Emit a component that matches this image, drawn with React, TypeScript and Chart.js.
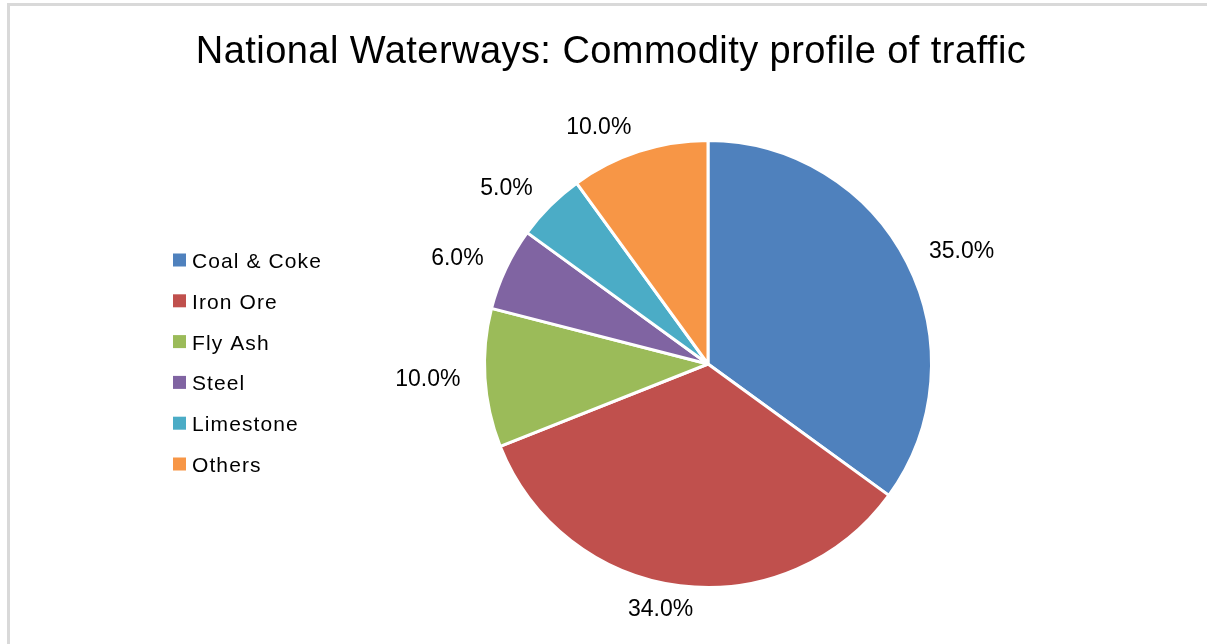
import React, { useEffect, useRef } from "react";
import { Chart, registerables } from "chart.js";

Chart.register(...registerables);

const chartTitle = "National Waterways: Commodity profile of traffic";
const categories = ["Coal & Coke", "Iron Ore", "Fly Ash", "Steel", "Limestone", "Others"];
const shares = [35, 34, 10, 6, 5, 10];
const sliceColors = ["#4F81BD", "#C0504D", "#9BBB59", "#8064A2", "#4BACC6", "#F79646"];

const FONT = "'Liberation Sans', Arial, sans-serif";

const decorPlugin = {
  id: "decor",
  afterDraw(chart: any) {
    const ctx = chart.ctx as CanvasRenderingContext2D;
    const meta = chart.getDatasetMeta(0);
    ctx.save();
    // title
    ctx.fillStyle = "#000";
    ctx.font = `38px ${FONT}`;
    (ctx as any).letterSpacing = "0.45px";
    ctx.textAlign = "center";
    ctx.textBaseline = "alphabetic";
    ctx.fillText(chartTitle, 611, 63);

    // data labels (outside end)
    ctx.font = `23px ${FONT}`;
    (ctx as any).letterSpacing = "0px";
    ctx.textBaseline = "middle";
    meta.data.forEach((arc: any, i: number) => {
      const { x, y, startAngle, endAngle, outerRadius } = arc.getProps(
        ["x", "y", "startAngle", "endAngle", "outerRadius"],
        true
      );
      const mid = (startAngle + endAngle) / 2;
      const dx = Math.cos(mid);
      const dy = Math.sin(mid);
      const d = outerRadius + 24.5;
      const txt = shares[i].toFixed(1) + "%";
      const w = ctx.measureText(txt).width;
      const shift = Math.sign(dx) * Math.min(1, Math.abs(dx) / 0.25) * (w / 2);
      ctx.fillText(txt, x + dx * d + shift, y + dy * d);
    });

    // legend
    ctx.font = `21px ${FONT}`;
    (ctx as any).letterSpacing = "1.1px";
    ctx.textAlign = "left";
    ctx.textBaseline = "alphabetic";
    categories.forEach((c, i) => {
      const cy = 260 + i * 40.8;
      ctx.fillStyle = sliceColors[i];
      ctx.fillRect(173, cy - 6.5, 13, 13);
      ctx.fillStyle = "#000";
      ctx.fillText(c, 192, cy + 8);
    });
    ctx.restore();
  },
};

export default function App() {
  const ref = useRef<HTMLCanvasElement>(null);
  useEffect(() => {
    if (!ref.current) return;
    const chart = new Chart(ref.current, {
      type: "pie",
      data: {
        labels: categories,
        datasets: [
          {
            data: shares,
            backgroundColor: sliceColors,
            borderColor: "#ffffff",
            borderWidth: 3,
          },
        ],
      },
      options: {
        animation: false,
        responsive: false,
        radius: 223.5,
        layout: { padding: { top: 140, bottom: 56, left: 484, right: 275 } },
        plugins: {
          legend: { display: false },
          title: { display: false },
          tooltip: { enabled: false },
        },
        events: [],
      } as any,
      plugins: [decorPlugin],
    });
    return () => chart.destroy();
  }, []);
  return (
    <div>
      <div
        style={{
          position: "fixed",
          left: 7,
          top: 3,
          width: 1200,
          height: 641,
          borderLeft: "3px solid #d9d9d9",
          borderTop: "3px solid #d9d9d9",
          boxSizing: "border-box",
        }}
      />
      <canvas
        ref={ref}
        width={1207}
        height={644}
        style={{ position: "fixed", left: 0, top: 0, width: 1207, height: 644 }}
      />
    </div>
  );
}
